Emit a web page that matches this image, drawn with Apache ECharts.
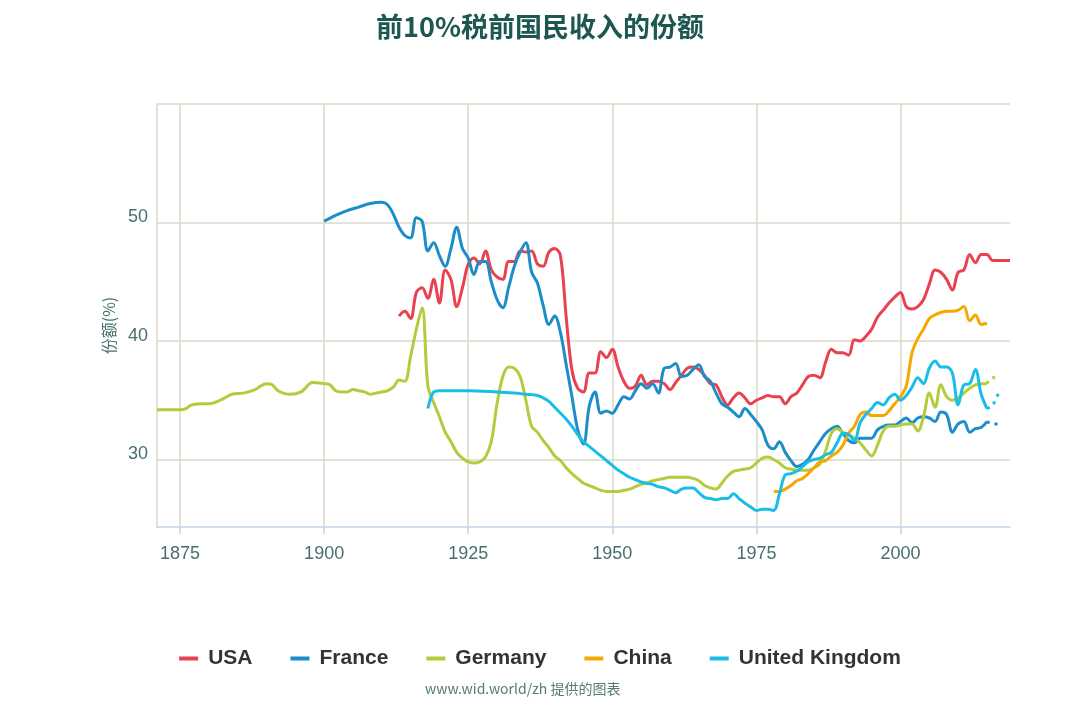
<!DOCTYPE html>
<html>
<head>
<meta charset="utf-8">
<script src="https://cdn.jsdelivr.net/npm/echarts@6/dist/echarts.min.js"></script>
<style>
html,body{margin:0;padding:0;background:#fff;}
#chart{width:1080px;height:701px;}
</style>
</head>
<body>
<div id="chart"></div>
<script>
const titleText = '前10%税前国民收入的份额';
const sourceText = 'www.wid.world/zh 提供的图表';
const yAxisName = '份额(%)';
const legendNames = ['USA', 'France', 'Germany', 'China', 'United Kingdom'];
const xTicks = [1875, 1900, 1925, 1950, 1975, 2000];
const yTicks = [30, 40, 50];

const usaYears = [1913,1914,1915,1916,1917,1918,1919,1920,1921,1922,1923,1924,1925,1926,1927,1928,1929,1930,1931,1932,1933,1934,1935,1936,1937,1938,1939,1940,1941,1942,1943,1944,1945,1946,1947,1948,1949,1950,1951,1952,1953,1954,1955,1956,1957,1958,1959,1960,1961,1962,1963,1964,1965,1966,1967,1968,1969,1970,1971,1972,1973,1974,1975,1976,1977,1978,1979,1980,1981,1982,1983,1984,1985,1986,1987,1988,1989,1990,1991,1992,1993,1994,1995,1996,1997,1998,1999,2000,2001,2002,2003,2004,2005,2006,2007,2008,2009,2010,2011,2012,2013,2014,2015,2016,2017,2018,2019];
const usaValues = [42.1,42.5,41.9,44.1,44.5,43.6,45.2,43.2,46.0,45.2,42.9,44.5,46.5,47.0,46.5,47.6,46.0,45.4,45.2,46.7,46.7,47.6,47.5,47.6,46.5,46.3,47.5,47.8,47.2,42.0,37.5,36.0,35.7,37.3,37.3,39.1,38.6,39.3,37.8,36.6,36.0,36.2,37.1,36.3,36.6,36.6,36.4,35.9,36.5,37.1,37.7,37.8,37.6,37.1,36.4,36.3,35.3,34.6,35.2,35.6,35.2,34.7,35.0,35.2,35.4,35.3,35.3,34.7,35.3,35.6,36.3,37.0,37.1,36.9,38.2,39.3,39.0,39.0,38.8,40.1,40.0,40.4,41.0,42.0,42.6,43.2,43.7,44.1,42.9,42.7,42.9,43.5,44.8,46.0,45.8,45.2,44.3,45.8,46.0,47.3,46.6,47.3,47.3,46.8,46.8,46.8,46.8];

const franceYears = [1900,1902,1904,1906,1908,1910,1911,1912,1913,1914,1915,1916,1917,1918,1919,1920,1921,1922,1923,1924,1925,1926,1927,1928,1929,1930,1931,1932,1933,1934,1935,1936,1937,1938,1939,1940,1941,1942,1943,1944,1945,1946,1947,1948,1949,1950,1951,1952,1953,1954,1955,1956,1957,1958,1959,1960,1961,1962,1963,1964,1965,1966,1967,1968,1969,1970,1971,1972,1973,1974,1975,1976,1977,1978,1979,1980,1981,1982,1983,1984,1985,1986,1987,1988,1989,1990,1991,1992,1993,1994,1995,1996,1997,1998,1999,2000,2001,2002,2003,2004,2005,2006,2007,2008,2009,2010,2011,2012,2013,2014,2015];
const franceValues = [50.1,50.6,51.0,51.3,51.6,51.7,51.5,50.7,49.6,48.9,48.7,50.4,50.1,47.6,48.3,47.2,46.3,47.8,49.6,47.8,47.0,45.6,46.7,46.7,45.0,43.5,42.8,44.5,46.3,47.5,48.3,45.8,44.9,43.0,41.4,42.1,40.7,38.0,35.3,32.5,31.3,34.5,35.7,33.9,34.1,33.9,34.6,35.3,35.1,35.8,36.4,36.0,36.4,35.6,37.7,37.8,38.1,37.0,37.1,37.6,38.0,37.0,36.6,35.6,34.7,34.4,34.0,33.6,34.3,33.8,33.2,32.5,31.2,30.9,31.5,30.6,29.9,29.4,29.6,30.0,30.8,31.5,32.2,32.6,32.8,32.2,31.6,31.4,31.8,31.8,31.8,32.5,32.8,32.9,32.9,33.2,33.5,33.1,33.5,33.6,33.5,33.2,34.0,33.8,32.3,33.0,33.2,32.3,32.6,32.7,33.2];
const franceDottedYears = [2015,2016,2017];
const franceDottedValues = [33.2,33.0,33.0];

const germanyYears = [1871,1873,1875,1876,1877,1879,1880,1882,1884,1886,1888,1890,1891,1892,1894,1896,1898,1900,1901,1902,1903,1904,1905,1906,1907,1908,1909,1910,1911,1912,1913,1914,1915,1916,1917,1918,1919,1920,1921,1922,1923,1924,1925,1926,1927,1928,1929,1930,1931,1932,1933,1934,1935,1936,1937,1938,1939,1940,1941,1942,1943,1944,1945,1946,1947,1948,1949,1950,1951,1952,1953,1954,1955,1956,1957,1958,1959,1960,1961,1962,1963,1964,1965,1966,1967,1968,1969,1970,1971,1972,1973,1974,1975,1976,1977,1978,1979,1980,1981,1982,1983,1984,1985,1986,1987,1988,1989,1990,1991,1992,1993,1994,1995,1996,1997,1998,1999,2000,2001,2002,2003,2004,2005,2006,2007,2008,2009,2010,2011,2012,2013,2014,2015];
const germanyValues = [34.2,34.2,34.2,34.3,34.6,34.7,34.7,35.0,35.5,35.6,35.9,36.4,36.3,35.8,35.5,35.7,36.5,36.4,36.3,35.8,35.7,35.7,35.9,35.8,35.7,35.5,35.6,35.7,35.8,36.1,36.7,36.6,38.7,41.0,42.8,36.2,34.8,33.6,32.3,31.5,30.6,30.1,29.8,29.7,29.8,30.2,31.5,34.7,37.0,37.8,37.7,37.0,35.0,32.8,32.3,31.6,31.0,30.3,29.9,29.3,28.8,28.4,28.0,27.8,27.6,27.4,27.3,27.3,27.3,27.4,27.5,27.7,27.9,28.0,28.2,28.3,28.4,28.5,28.5,28.5,28.5,28.4,28.2,27.8,27.6,27.5,28.0,28.6,29.0,29.1,29.2,29.3,29.7,30.1,30.2,30.0,29.7,29.3,29.2,29.1,29.1,29.1,29.3,29.6,30.7,32.2,32.6,32.3,32.1,31.8,31.4,30.8,30.3,31.2,32.4,32.8,32.8,32.9,33.0,33.0,32.4,33.6,35.6,34.4,36.3,35.3,35.0,35.2,35.6,36.0,36.3,36.4,36.4];
const germanyDottedYears = [2015,2016,2017];
const germanyDottedValues = [36.4,36.9,36.9];

const chinaYears = [1978,1979,1980,1981,1982,1983,1984,1985,1986,1987,1988,1989,1990,1991,1992,1993,1994,1995,1996,1997,1998,1999,2000,2001,2002,2003,2004,2005,2006,2007,2008,2009,2010,2011,2012,2013,2014,2015];
const chinaValues = [27.3,27.3,27.5,27.8,28.2,28.4,28.8,29.3,29.8,29.9,30.3,30.6,31.2,32.2,32.8,33.8,34.0,33.7,33.7,33.7,34.1,34.7,35.3,36.2,39.0,40.2,41.0,41.9,42.2,42.4,42.5,42.5,42.6,42.9,41.7,42.2,41.4,41.5];

const ukYears = [1918,1919,1920,1925,1930,1933,1935,1937,1938,1939,1940,1941,1942,1943,1944,1945,1946,1947,1948,1949,1950,1951,1952,1953,1954,1955,1956,1957,1958,1959,1960,1961,1962,1963,1964,1965,1966,1967,1968,1969,1970,1971,1972,1973,1974,1975,1976,1977,1978,1979,1980,1981,1982,1983,1984,1985,1986,1987,1988,1989,1990,1991,1992,1993,1994,1995,1996,1997,1998,1999,2000,2001,2002,2003,2004,2005,2006,2007,2008,2009,2010,2011,2012,2013,2014,2015];
const ukValues = [34.3,35.7,35.8,35.8,35.7,35.6,35.5,35.4,35.2,34.9,34.4,33.9,33.4,32.8,32.1,31.5,31.1,30.7,30.3,29.9,29.5,29.1,28.8,28.5,28.3,28.1,28.0,27.9,27.7,27.6,27.4,27.2,27.5,27.6,27.6,27.2,26.8,26.7,26.6,26.7,26.7,27.1,26.7,26.3,26.0,25.7,25.8,25.8,25.7,27.1,28.7,28.8,29.0,29.4,29.8,30.0,30.1,30.4,30.6,31.4,32.2,32.1,31.6,33.1,33.8,34.3,34.8,34.6,35.2,35.5,35.0,35.4,36.1,36.9,36.4,37.7,38.3,37.8,37.8,37.3,34.6,36.3,36.4,37.6,35.5,34.3];
const ukDottedYears = [2015,2016,2017];
const ukDottedValues = [34.3,34.6,35.6];

const colors = {
  'USA': '#e8414f',
  'France': '#1b8dc9',
  'Germany': '#b4cb3d',
  'China': '#f6a800',
  'United Kingdom': '#19bee6'
};

function pairs(xs, ys) { return xs.map((x, i) => [x, ys[i]]); }

function lineSeries(name, xs, ys, dotted) {
  return {
    name: name,
    type: 'line',
    data: pairs(xs, ys),
    smooth: 0.35,
    showSymbol: false,
    symbol: 'none',
    clip: true,
    lineStyle: { width: 3, color: colors[name], type: dotted ? [3, 5] : 'solid' },
    itemStyle: { color: colors[name] },
    emphasis: { disabled: true },
    z: 3
  };
}

const chart = echarts.init(document.getElementById('chart'));
const gridColor = '#d9d9ca';
const labelColor = '#46706d';

chart.setOption({
  animation: false,
  backgroundColor: '#ffffff',
  title: [
    {
      text: titleText,
      left: 'center',
      top: 8,
      textStyle: { fontSize: 27, fontWeight: 'bold', color: '#1d5850', fontFamily: 'Noto Sans CJK SC' }
    },
    {
      text: sourceText,
      left: 420,
      top: 677,
      textStyle: { fontSize: 14, fontWeight: 'normal', color: '#557b77', fontFamily: 'Noto Sans CJK SC' }
    }
  ],
  legend: {
    data: legendNames,
    top: 643,
    left: 'center',
    icon: 'rect',
    itemWidth: 19,
    itemHeight: 4,
    itemGap: 38,
    textStyle: { fontSize: 21, fontWeight: 'bold', color: '#333333', fontFamily: 'Liberation Sans', padding: [0, 0, 0, 5] }
  },
  grid: { left: 157, right: 70, top: 104, bottom: 174, containLabel: false },
  xAxis: {
    type: 'value',
    min: 1871,
    max: 2019,
    axisLine: { show: true, onZero: false, lineStyle: { color: '#c5d3e6', width: 1.5 } },
    axisTick: { show: true, length: 7, lineStyle: { color: '#c5d3e6', width: 1.5 }, customValues: xTicks },
    axisLabel: { customValues: xTicks, fontSize: 18, color: labelColor, margin: 18, fontFamily: 'Liberation Sans', formatter: v => String(v) },
    splitLine: { show: true, lineStyle: { color: gridColor, width: 1.5 } }
  },
  yAxis: {
    type: 'value',
    min: 24.3,
    max: 60,
    name: yAxisName,
    nameLocation: 'middle',
    nameGap: 32,
    nameRotate: 90,
    nameTextStyle: { fontSize: 16, color: labelColor, fontFamily: 'Noto Sans CJK SC', padding: [0, 20, 0, 0] },
    axisLine: { show: true, lineStyle: { color: gridColor, width: 1.5 } },
    axisTick: { show: false, customValues: [30, 40, 50, 60] },
    axisLabel: { customValues: yTicks, fontSize: 18, color: labelColor, margin: 9, fontFamily: 'Liberation Sans', verticalAlign: 'bottom', lineHeight: 10 },
    splitLine: { show: true, lineStyle: { color: gridColor, width: 1.5 } }
  },
  series: [
    lineSeries('USA', usaYears, usaValues, false),
    lineSeries('France', franceYears, franceValues, false),
    lineSeries('France', franceDottedYears, franceDottedValues, true),
    lineSeries('Germany', germanyYears, germanyValues, false),
    lineSeries('Germany', germanyDottedYears, germanyDottedValues, true),
    lineSeries('China', chinaYears, chinaValues, false),
    lineSeries('United Kingdom', ukYears, ukValues, false),
    lineSeries('United Kingdom', ukDottedYears, ukDottedValues, true)
  ]
});
</script>
</body>
</html>
